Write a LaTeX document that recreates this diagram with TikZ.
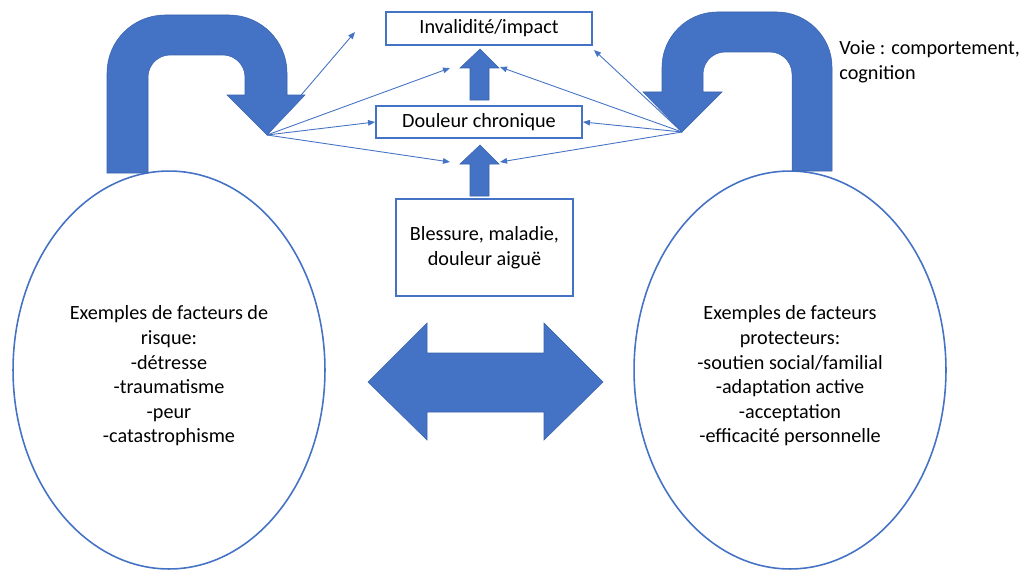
\documentclass[tikz,border=0pt]{standalone}
\usepackage{fontspec}
\setmainfont{Carlito}
\usetikzlibrary{shapes.geometric,arrows.meta}
\definecolor{bleu}{HTML}{4472C4}
\definecolor{bleufonce}{HTML}{3A63AD}

\begin{document}
\begin{tikzpicture}[x=0.02cm,y=-0.02cm,
    font=\fontsize{11.5}{14}\selectfont,
    boite/.style={draw=bleu,line width=1.1pt,inner sep=0pt,align=center},
    bulle/.style={ellipse,draw=bleu,line width=0.9pt,inner sep=0pt,
      minimum width=6.24cm,minimum height=7.96cm},
    fleche/.style={draw=bleu,line width=0.5pt,-{Triangle[length=4pt,width=3.2pt]}},
    bloc/.style={fill=bleu,draw=bleufonce,line width=0.3pt}]
  \useasboundingbox (0,0) rectangle (1023,571);

  % boxes in the middle
  \node[boite,minimum width=4.12cm,minimum height=0.66cm] (invalidite) at (489,28.5) {Invalidité/impact};
  \node[boite,minimum width=4.12cm,minimum height=0.64cm] (chronique) at (479,122) {Douleur chronique};
  \node[boite,minimum width=3.54cm,minimum height=1.94cm] (blessure) at (484.5,247.5) {Blessure, maladie,\\douleur aiguë};

  % the two ellipses and their texts
  \node[bulle] (risque) at (169,370) {};
  \node[align=center] (risquetexte) at (169,376) {Exemples de facteurs de\\risque:\\-détresse\\-traumatisme\\-peur\\-catastrophisme};
  \node[bulle] (protection) at (790,370) {};
  \node[align=center] (protectiontexte) at (790,376) {Exemples de facteurs\\protecteurs:\\-soutien social/familial\\-adaptation active\\-acceptation\\-efficacité personnelle};

  \node[anchor=west,inner sep=0pt,align=left] (voie) at (839,62) {Voie : comportement,\\cognition};

  % thin arrows from the two tips
  \coordinate (pointeG) at (267,135);
  \coordinate (pointeD) at (682,132);
  \coordinate (libre) at (355,32);
  \coordinate (hautG) at (450,68);
  \coordinate (hautD) at (500,67);
  \coordinate (basG) at (450,162);
  \coordinate (basD) at (500,162);
  \coordinate (coin) at (594,50);
  \draw[fleche] (pointeG) -- (libre);
  \draw[fleche] (pointeG) -- (hautG);
  \draw[fleche] (pointeG) -- (chronique.west);
  \draw[fleche] (pointeG) -- (basG);
  \draw[fleche] (pointeD) -- (coin);
  \draw[fleche] (pointeD) -- (hautD);
  \draw[fleche] (pointeD) -- (chronique.east);
  \draw[fleche] (pointeD) -- (basD);

  % left u-turn
  \fill[bloc] (107,173) -- (107,73) .. controls (107,41) and (133,15) .. (165,15)
    -- (229,15) .. controls (261,15) and (287,41) .. (287,73)
    -- (287,95) -- (305,95) -- (pointeG) -- (227,95) -- (245,95)
    -- (245,77) .. controls (245,65) and (235,55) .. (223,55)
    -- (170,55) .. controls (158,55) and (148,65) .. (148,77)
    -- (148,173) -- cycle;
  % right u-turn
  \fill[bloc] (832,171) -- (832,67) .. controls (832,37) and (807,12) .. (777,12)
    -- (717,12) .. controls (687,12) and (662,37) .. (662,67)
    -- (662,92) -- (643,92) -- (pointeD) -- (722,92) -- (703,92)
    -- (703,74) .. controls (703,62) and (713,52) .. (725,52)
    -- (770,52) .. controls (782,52) and (792,62) .. (792,74)
    -- (792,171) -- cycle;

  % up arrows
  \fill[bloc] (470,196) -- (470,164) -- (460,164) -- (480,145) -- (499,164) -- (489,164) -- (489,196) -- cycle;
  \fill[bloc] (470,100) -- (470,68) -- (460,68) -- (480,49) -- (499,68) -- (489,68) -- (489,100) -- cycle;

  % double arrow
  \fill[bloc] (368,382) -- (427,323) -- (427,353) -- (544,353) -- (544,323) -- (603,382)
    -- (544,440) -- (544,412) -- (427,412) -- (427,440) -- cycle;
\end{tikzpicture}
\end{document}
